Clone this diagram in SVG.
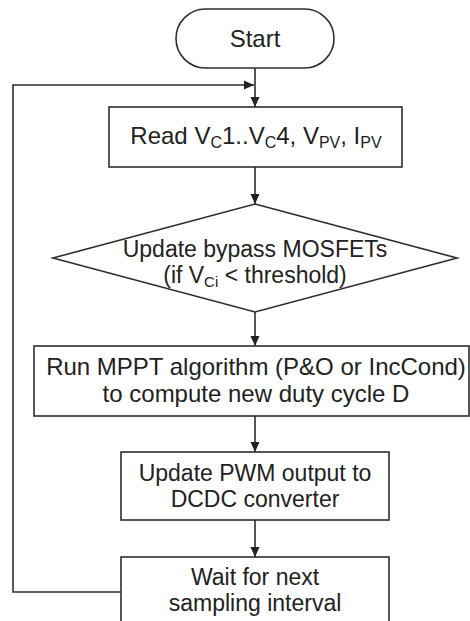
<svg xmlns="http://www.w3.org/2000/svg" width="470" height="621" viewBox="0 0 470 621">
<style>
.shape{fill:#fff;stroke:#2e2e2e;stroke-width:1.6}
.conn{fill:none;stroke:#2e2e2e;stroke-width:1.6}
text{font-family:"Liberation Sans",Arial,sans-serif;fill:#222;text-anchor:middle;font-size:23px}
.big{font-size:24px}
.sub{font-size:15px}
.sub16{font-size:16px}
</style>
<defs>
<marker id="arr" markerUnits="userSpaceOnUse" markerWidth="12" markerHeight="12" viewBox="0 0 12 12" refX="11" refY="6" orient="auto">
<path d="M1,1.5 L11,6 L1,10.5 Z" fill="#222"/>
</marker>
</defs>
<rect width="470" height="621" fill="#fff"/>
<g id="connectors">
<line class="conn" x1="255" y1="68" x2="255" y2="107" marker-end="url(#arr)"/>
<polyline class="conn" points="121,592 13,592 13,85 254,85" marker-end="url(#arr)"/>
<line class="conn" x1="255" y1="167" x2="255" y2="204" marker-end="url(#arr)"/>
<line class="conn" x1="255" y1="312" x2="255" y2="346" marker-end="url(#arr)"/>
<line class="conn" x1="255" y1="416" x2="255" y2="452" marker-end="url(#arr)"/>
<line class="conn" x1="255" y1="520" x2="255" y2="557" marker-end="url(#arr)"/>
</g>
<g id="start">
<rect class="shape" x="176" y="9" width="158" height="59" rx="29.5" ry="29.5"/>
<text class="big" x="255" y="47">Start</text>
</g>
<g id="read">
<rect class="shape" x="109" y="107" width="293" height="60"/>
<text class="big" x="256" y="144">Read V<tspan class="sub16" dy="4">C</tspan><tspan dy="-4">1..V</tspan><tspan class="sub16" dy="4">C</tspan><tspan dy="-4">4, V</tspan><tspan class="sub16" dy="4">PV</tspan><tspan dy="-4">, I</tspan><tspan class="sub16" dy="4">PV</tspan></text>
</g>
<g id="bypass">
<polygon class="shape" points="255,204 457,258 255,312 53,258"/>
<text x="255" y="257">Update bypass MOSFETs</text>
<text x="255" y="283">(if V<tspan class="sub" dy="4">Ci</tspan><tspan dy="-4"> &lt; threshold)</tspan></text>
</g>
<g id="mppt">
<rect class="shape" x="34" y="346" width="435" height="70"/>
<text class="big" x="256" y="375">Run MPPT algorithm (P&amp;O or IncCond)</text>
<text class="big" x="256" y="402">to compute new duty cycle D</text>
</g>
<g id="pwm">
<rect class="shape" x="121" y="452" width="268" height="68"/>
<text x="255" y="481">Update PWM output to</text>
<text x="255" y="507">DCDC converter</text>
</g>
<g id="wait">
<rect class="shape" x="121" y="557" width="268" height="90"/>
<text x="255" y="585">Wait for next</text>
<text x="255" y="611">sampling interval</text>
</g>
</svg>
